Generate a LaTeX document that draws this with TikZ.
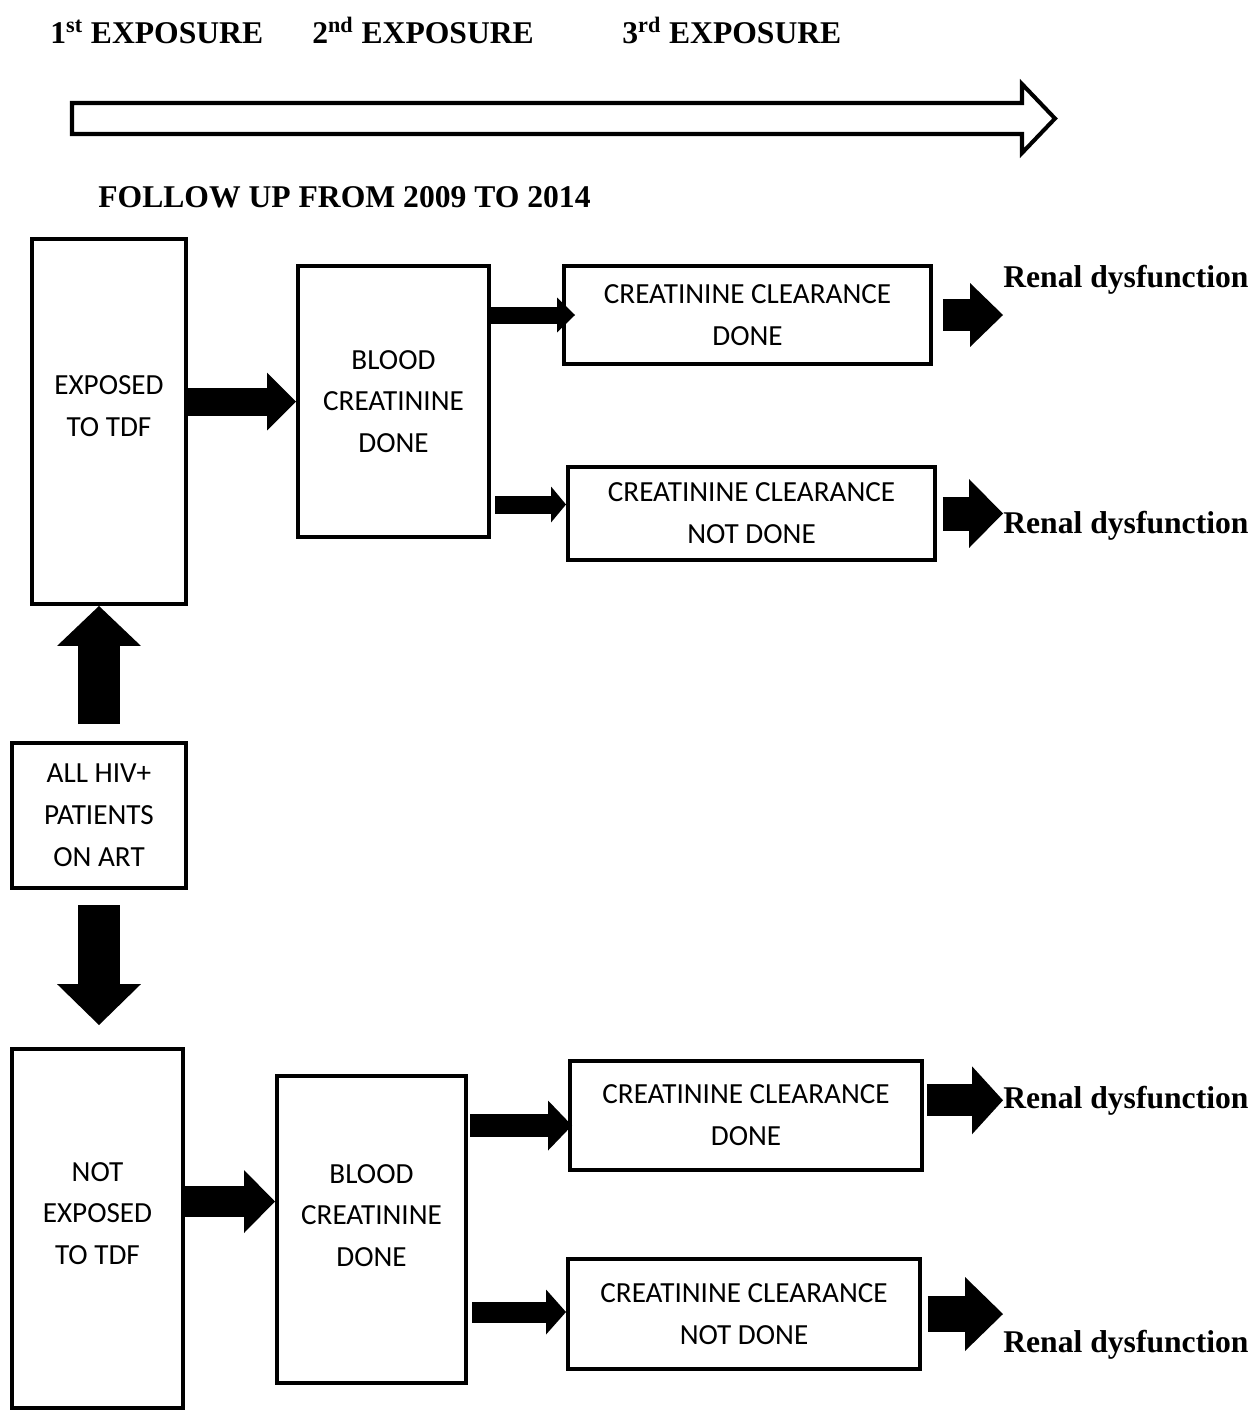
\documentclass[tikz,border=0pt]{standalone}
\usepackage{fontspec}
\setmainfont{Liberation Serif}
\newfontfamily\boxfont{Carlito}
\usetikzlibrary{calc}
\usetikzlibrary{arrows.meta}

\tikzset{
  box/.style={draw, line width=2.3pt, inner sep=0pt},
  boxtxt/.style={align=center, inner sep=0pt, font=\boxfont\fontsize{16.6}{23.8}\selectfont},
  head/.style={anchor=base west, inner sep=0pt, font=\bfseries\fontsize{18}{22}\selectfont},
  fat/.style n args={3}{line width=#1, -{Triangle[width=#2, length=#3, line width=0pt]}},
}

\begin{document}
\begin{tikzpicture}[x=0.02cm, y=-0.02cm]
	\useasboundingbox (0,0) rectangle (1255,1416);

	% time line
	\node[head] (e1) at (50,44) {1\textsuperscript{st} EXPOSURE};
	\node[head] (e2) at (312,44) {2\textsuperscript{nd} EXPOSURE};
	\node[head] (e3) at (622,44) {3\textsuperscript{rd} EXPOSURE};
	\draw[line width=2.3pt] (72,103)--(1022,103)--(1022,84)--(1055,118.5)--(1022,153)--(1022,134)--(72,134)--cycle;
	\node[head] (fu) at (98,207) {FOLLOW UP FROM 2009 TO 2014};

	% boxes
	\node[box, minimum width=3.08cm, minimum height=7.30cm,
		label={[boxtxt, yshift=0.3cm]center:EXPOSED\\TO TDF}] (exp) at (109,421.5) {};
	\node[box, boxtxt, minimum width=3.82cm, minimum height=5.42cm] (bld1) at (393.5,401.5) {BLOOD\\CREATININE\\DONE};
	\node[box, boxtxt, minimum width=7.34cm, minimum height=1.96cm] (ccd1) at (747.5,315) {CREATININE CLEARANCE\\DONE};
	\node[box, boxtxt, minimum width=7.34cm, minimum height=1.86cm] (ccnd1) at (751.5,513.5) {CREATININE CLEARANCE\\NOT DONE};
	\node[box, boxtxt, minimum width=3.48cm, minimum height=2.90cm] (all) at (99,815.5) {ALL HIV+\\PATIENTS\\ON ART};
	\node[box, minimum width=3.42cm, minimum height=7.18cm,
		label={[boxtxt, yshift=0.3cm]center:NOT\\EXPOSED\\TO TDF}] (ne) at (97.5,1228.5) {};
	\node[box, minimum width=3.78cm, minimum height=6.14cm,
		label={[boxtxt, yshift=0.28cm]center:BLOOD\\CREATININE\\DONE}] (bld2) at (371.5,1229.5) {};
	\node[box, boxtxt, minimum width=7.04cm, minimum height=2.18cm] (ccd2) at (746,1115.5) {CREATININE CLEARANCE\\DONE};
	\node[box, boxtxt, minimum width=7.04cm, minimum height=2.20cm] (ccnd2) at (744,1314) {CREATININE CLEARANCE\\NOT DONE};

	% outcomes
	\node[head] (ren1) at (1003,287) {Renal dysfunction};
	\node[head] (ren2) at (1003,533) {Renal dysfunction};
	\node[head] (ren3) at (1003,1108) {Renal dysfunction};
	\node[head] (ren4) at (1003,1352) {Renal dysfunction};

	% block arrows
	\draw[fat={0.84cm}{1.68cm}{0.80cm}, shorten <=0.34cm] (all.north)--(all.north |- exp.south);
	\draw[fat={0.84cm}{1.68cm}{0.82cm}, shorten <=0.3cm, shorten >=0.44cm] (all.south)--(all.south |- ne.north);

	\draw[fat={0.56cm}{1.16cm}{0.58cm}] (exp.east |- bld1.west)--(bld1.west);
	\draw[fat={0.34cm}{0.70cm}{0.36cm}] (bld1.east |- ccd1.west)--([xshift=0.26cm]ccd1.west);
	\draw[fat={0.36cm}{0.72cm}{0.30cm}] ($(bld1.east |- ccnd1.west)+(4,-9)$)--($(ccnd1.west)+(0,-9)$);
	\draw[fat={0.64cm}{1.28cm}{0.66cm}, shorten <=0.2cm] (ccd1.east)--(ren1.west |- ccd1.east);
	\draw[fat={0.68cm}{1.38cm}{0.68cm}, shorten <=0.12cm] (ccnd1.east)--(ren2.west |- ccnd1.east);

	\draw[fat={0.62cm}{1.26cm}{0.62cm}] ($(ne.east)+(0,-27)$)--($(bld2.west)+(0,-28)$);
	\draw[fat={0.46cm}{1.00cm}{0.48cm}] ($(bld2.east |- ccd2.west)+(2,10)$)--($(ccd2.west)+(4,10)$);
	\draw[fat={0.42cm}{0.90cm}{0.40cm}] ($(bld2.east |- ccnd2.west)+(4,-2)$)--($(ccnd2.west)+(0,-2)$);
	\draw[fat={0.64cm}{1.36cm}{0.62cm}, shorten <=0.06cm] (ccd2.east |- ren3.west)--(ren3.west);
	\draw[fat={0.72cm}{1.48cm}{0.76cm}, shorten <=0.12cm] (ccnd2.east)--(ren4.west |- ccnd2.east);
\end{tikzpicture}
\end{document}
